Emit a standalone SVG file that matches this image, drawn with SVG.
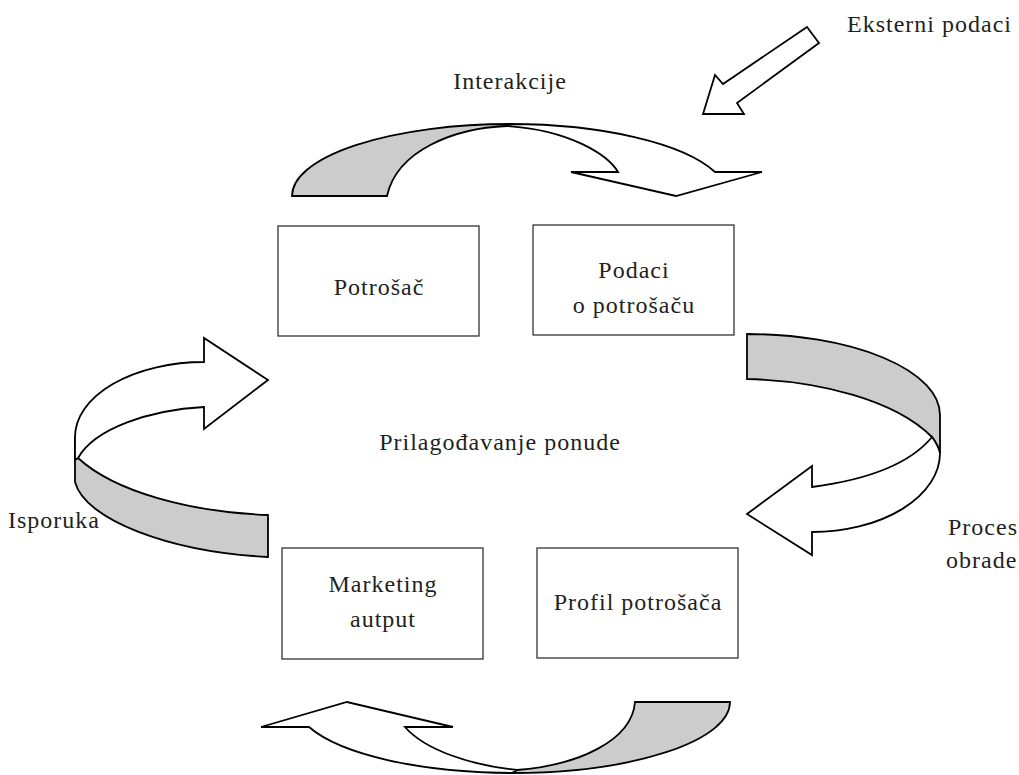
<svg xmlns="http://www.w3.org/2000/svg" width="1019" height="775" viewBox="0 0 1019 775">
<style>
.t{font-family:"Liberation Serif","Times New Roman",serif;font-size:24px;fill:#231f20;letter-spacing:1px}
.m{text-anchor:middle}
.box{fill:#fff;stroke:#333;stroke-width:1.3}
.w{fill:#fff;stroke:#000;stroke-width:1.8;stroke-linejoin:miter}
.g{fill:#cccccc;stroke:#000;stroke-width:1.8;stroke-linejoin:miter}
</style>
<rect width="1019" height="775" fill="#fff"/>
<g id="connectors">
  <g id="arrow-external">
    <polygon class="w" points="807,27 819,43 737,103 744,114 703,114 715,75 723,84"/>
  </g>
  <g id="arrow-interakcije">
    <path class="g" d="M292,196 A218,72 0 0 1 510,124 L507,126 C455,128 397,150 387,196 Z"/>
    <path class="w" d="M510,124 A218,72 0 0 1 715,172 L762,172 L676,196 L571,172 L618,172 C608,155 570,130 507,126 Z"/>
  </g>
  <g id="arrow-proces">
    <path class="g" d="M747,334 A193,81 0 0 1 940,415 L940,453 Q938,445 932,437 C895,400 820,381 747,379 Z"/>
    <path class="w" d="M940,453 A128,79 0 0 1 812,532 L812,555 L747,514 L812,466 L812,487 C850,482 905,470 932,437 Q938,445 940,453 Z"/>
  </g>
  <g id="arrow-bottom">
    <path class="g" d="M635,702 L730,702 A218,71 0 0 1 512,773 L517,770 C580,765 632,740 635,702 Z"/>
    <path class="w" d="M512,773 A218,71 0 0 1 309,727 L261,727 L347,702 L453,727 L405,727 C425,750 470,765 517,770 Z"/>
  </g>
  <g id="arrow-isporuka">
    <path class="g" d="M75,437 L75,482 C85,520 170,552 268,557 L268,515 C190,512 115,492 78,458 Z"/>
    <path class="w" d="M204,362 A129,75 0 0 0 75,437 L75,460 L78,458 C95,428 150,410 204,407 L204,429 L268,380 L204,338 Z"/>
  </g>
</g>
<g id="node-potrosac">
  <rect class="box" x="278" y="226" width="201" height="110"/>
  <text class="t m" x="379" y="295">Potrošač</text>
</g>
<g id="node-podaci">
  <rect class="box" x="533" y="225" width="201" height="110"/>
  <text class="t m" x="634" y="278">Podaci</text>
  <text class="t m" x="634" y="313">o potrošaču</text>
</g>
<g id="node-marketing">
  <rect class="box" x="282" y="548" width="201" height="111"/>
  <text class="t m" x="383" y="592">Marketing</text>
  <text class="t m" x="383" y="627">autput</text>
</g>
<g id="node-profil">
  <rect class="box" x="537" y="548" width="201" height="110"/>
  <text class="t m" x="638" y="610">Profil potrošača</text>
</g>
<g id="labels">
  <text class="t" x="847" y="32">Eksterni podaci</text>
  <text class="t m" x="510" y="89">Interakcije</text>
  <text class="t m" x="500" y="450">Prilagođavanje ponude</text>
  <text class="t" x="8" y="528">Isporuka</text>
  <text class="t" x="948" y="535">Proces</text>
  <text class="t" x="946" y="568">obrade</text>
</g>
</svg>
